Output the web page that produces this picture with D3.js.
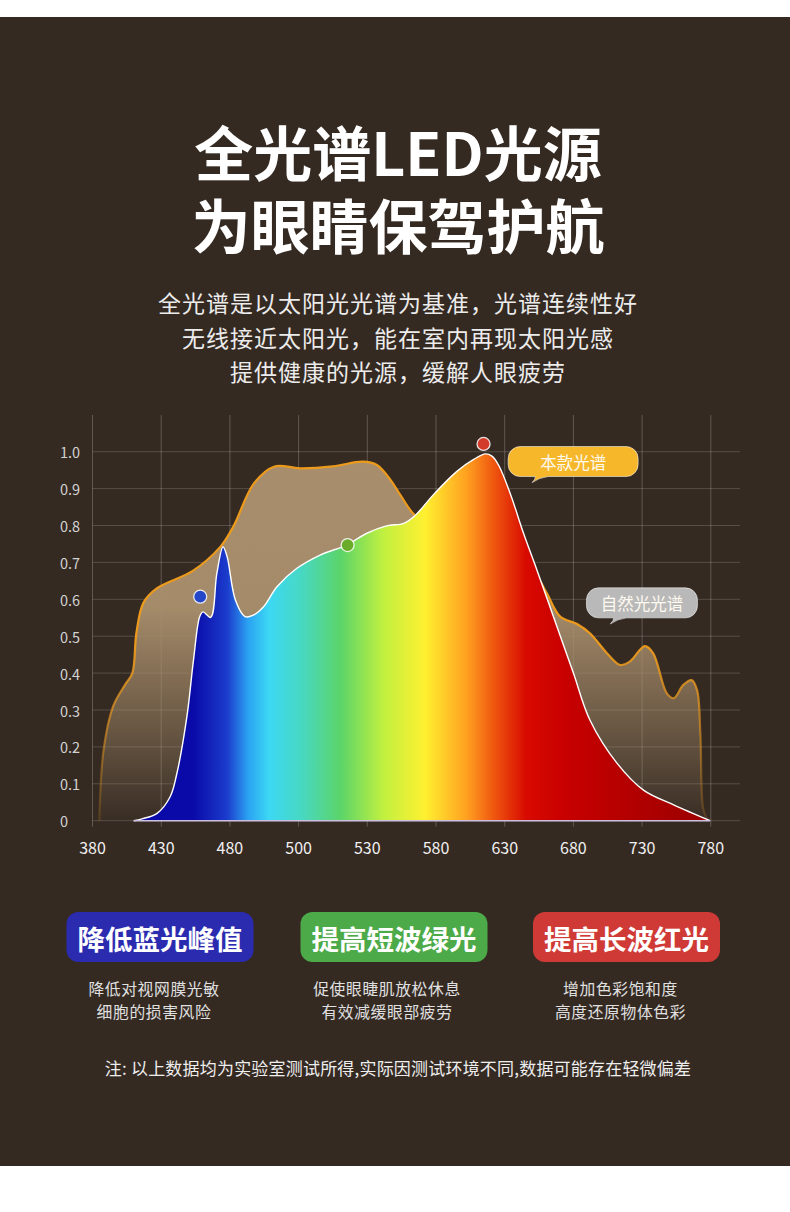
<!DOCTYPE html>
<html>
<head>
<meta charset="utf-8">
<script src="https://cdn.jsdelivr.net/npm/d3@7/dist/d3.min.js"></script>
<style>
  html, body { margin: 0; padding: 0; background: #ffffff; }
  svg { display: block; font-family: "Noto Sans CJK SC", "Noto Sans", sans-serif; }
</style>
</head>
<body>
<svg id="chart"></svg>
<script>
// tick labels (x is not evenly spaced in nm, every tick gets the same width)
var xTicks = [380, 430, 480, 500, 530, 580, 630, 680, 730, 780];
var yTicks = [0, 0.1, 0.2, 0.3, 0.4, 0.5, 0.6, 0.7, 0.8, 0.9, 1.0];
var yTickLabels = ['0', '0.1', '0.2', '0.3', '0.4', '0.5', '0.6', '0.7', '0.8', '0.9', '1.0'];

// natural light spectrum [nm, relative value]
var sunWave = [385, 388, 395, 404, 409, 412, 417, 427, 453, 473, 481, 487, 493, 500.5, 515, 528, 537, 547, 554, 564, 580, 610, 640, 653.5, 660.7, 670.4, 682.6, 692, 704.4, 714, 721, 732, 738, 748, 753, 760, 766, 770, 772.4, 774.6, 778];
var sunValue = [0, 0.19, 0.31, 0.37, 0.40, 0.51, 0.59, 0.63, 0.677, 0.742, 0.797, 0.914, 0.96, 0.955, 0.96, 0.973, 0.964, 0.923, 0.883, 0.83, 0.79, 0.74, 0.70, 0.661, 0.616, 0.553, 0.533, 0.508, 0.454, 0.422, 0.431, 0.473, 0.454, 0.345, 0.332, 0.368, 0.381, 0.354, 0.237, 0.03, 0];

// LED spectrum of this lamp
var ledWave = [410, 416, 427, 436.5, 441.4, 448.7, 453.5, 458, 460.4, 466, 470.5, 475, 478, 481.6, 484.4, 486.8, 489.8, 493.7, 499.5, 509.4, 521, 529.8, 544, 556.5, 565, 578, 595, 607.4, 616, 620.7, 625.5, 634, 643.7, 653.5, 668, 680, 692, 711.7, 731, 753, 779.5];
var ledValue = [0, 0.005, 0.02, 0.065, 0.128, 0.282, 0.435, 0.553, 0.566, 0.551, 0.67, 0.742, 0.715, 0.598, 0.553, 0.557, 0.58, 0.634, 0.684, 0.72, 0.747, 0.779, 0.799, 0.806, 0.828, 0.883, 0.946, 0.979, 0.994, 0.988, 0.964, 0.887, 0.779, 0.679, 0.526, 0.40, 0.273, 0.156, 0.083, 0.043, 0];

// rainbow stops for the LED fill
var rainbowWave = [453.6, 478, 485.3, 491.4, 501.8, 518.5, 541.5, 572, 602.5, 621, 645.6, 673, 765];
var rainbowColor = ['#0a0aa8', '#1b3ccc', '#2ba2f2', '#3cd8f4', '#48d8c0', '#5cd468', '#c0f040', '#fff030', '#ffa020', '#f05a10', '#d80a00', '#c80000', '#a00000'];

// marker dots
var dotWave = [458.4, 521.4, 614.6];
var dotValue = [0.607, 0.747, 1.021];
var dotColor = ['#2446c8', '#6aab2a', '#d23a2a'];

// speech bubbles (top-left anchored on the chart scales)
var bubbleText = ['本款光谱', '自然光光谱'];
var bubbleWave = [632.5, 689.5];
var bubbleValue = [1.014, 0.631];
var bubbleColor = ['#f6b82a', '#b9b9b9'];

var badgeText = ['降低蓝光峰值', '提高短波绿光', '提高长波红光'];
var badgeColor = ['#2b2bb0', '#4caa48', '#d03a36'];
var badgeLines = [['降低对视网膜光敏', '细胞的损害风险'], ['促使眼睫肌放松休息', '有效减缓眼部疲劳'], ['增加色彩饱和度', '高度还原物体色彩']];

var W = 790, H = 1212;
var svg = d3.select('#chart').attr('width', W).attr('height', H);

svg.append('rect').attr('x', 0).attr('y', 0).attr('width', W).attr('height', H).attr('fill', '#ffffff');
svg.append('rect').attr('x', 0).attr('y', 17).attr('width', W).attr('height', 1149).attr('fill', '#352a22');

// title, two lines in one text block
var title = svg.append('text').attr('text-anchor', 'middle')
  .style('font-size', '59px').style('font-weight', 700).attr('fill', '#ffffff');
title.append('tspan').attr('x', 398).attr('y', 150).attr('dominant-baseline', 'central').text('全光谱LED光源');
title.append('tspan').attr('x', 398).attr('y', 223).attr('dominant-baseline', 'central').text('为眼睛保驾护航');

var intro = ['全光谱是以太阳光光谱为基准，光谱连续性好', '无线接近太阳光，能在室内再现太阳光感', '提供健康的光源，缓解人眼疲劳'];
intro.forEach(function(s, i) {
  svg.append('text').attr('x', 398).attr('y', 302 + i * 34.5).attr('text-anchor', 'middle').attr('dominant-baseline', 'central')
    .style('font-size', '23px').style('letter-spacing', '1px').attr('fill', '#ececec').text(s);
});

// scales
var left = 92.5, step = 68.7;
var x = d3.scaleLinear().domain(xTicks).range(xTicks.map(function(d, i) { return left + i * step; }));
var y = d3.scaleLinear().domain([0, 1]).range([820.7, 451.7]);
var gridRight = 740, gridTop = 415;

var defs = svg.append('defs');

var sunFill = defs.append('linearGradient').attr('id', 'sunFill')
  .attr('gradientUnits', 'userSpaceOnUse').attr('x1', 0).attr('x2', 0).attr('y1', y(1)).attr('y2', y(0));
sunFill.append('stop').attr('offset', 0).attr('stop-color', '#a88e6c').attr('stop-opacity', 1);
sunFill.append('stop').attr('offset', 0.42).attr('stop-color', '#a88e6c').attr('stop-opacity', 0.97);
sunFill.append('stop').attr('offset', 0.75).attr('stop-color', '#a88e6c').attr('stop-opacity', 0.45);
sunFill.append('stop').attr('offset', 1).attr('stop-color', '#a88e6c').attr('stop-opacity', 0.03);

var sunStroke = defs.append('linearGradient').attr('id', 'sunStroke')
  .attr('gradientUnits', 'userSpaceOnUse').attr('x1', 0).attr('x2', 0).attr('y1', y(1)).attr('y2', y(0));
sunStroke.append('stop').attr('offset', 0).attr('stop-color', '#ec9a1c').attr('stop-opacity', 1);
sunStroke.append('stop').attr('offset', 0.5).attr('stop-color', '#ec9a1c').attr('stop-opacity', 1);
sunStroke.append('stop').attr('offset', 1).attr('stop-color', '#ec9a1c').attr('stop-opacity', 0.15);

var ledFill = defs.append('linearGradient').attr('id', 'ledFill')
  .attr('gradientUnits', 'userSpaceOnUse').attr('x1', x(380)).attr('x2', x(780)).attr('y1', 0).attr('y2', 0);
rainbowWave.forEach(function(w, i) {
  ledFill.append('stop').attr('offset', (x(w) - x(380)) / (x(780) - x(380))).attr('stop-color', rainbowColor[i]);
});

// grid
var grid = svg.append('g');
yTicks.forEach(function(v) {
  grid.append('line').attr('x1', left).attr('x2', gridRight).attr('y1', y(v)).attr('y2', y(v))
    .attr('stroke', 'rgba(255,255,255,0.17)').attr('stroke-width', 1);
});
xTicks.forEach(function(w) {
  grid.append('line').attr('x1', x(w)).attr('x2', x(w)).attr('y1', gridTop).attr('y2', y(0) + 6)
    .attr('stroke', 'rgba(255,255,255,0.22)').attr('stroke-width', 1);
});

// axis labels
yTicks.forEach(function(v, i) {
  svg.append('text').attr('x', 60).attr('y', y(v)).attr('dominant-baseline', 'central')
    .style('font-size', '14.5px').attr('fill', '#d2d2d2').text(yTickLabels[i]);
});
xTicks.forEach(function(w) {
  svg.append('text').attr('x', x(w)).attr('y', 847).attr('text-anchor', 'middle').attr('dominant-baseline', 'central')
    .style('font-size', '16px').attr('fill', '#f0f0f0').text(w);
});

// natural light area
var sunData = sunWave.map(function(w, i) { return [w, sunValue[i]]; });
var ledData = ledWave.map(function(w, i) { return [w, ledValue[i]]; });

var area = d3.area().x(function(d) { return x(d[0]); }).y0(y(0)).y1(function(d) { return y(d[1]); })
  .curve(d3.curveCatmullRom.alpha(0.5));
var line = d3.line().x(function(d) { return x(d[0]); }).y(function(d) { return y(d[1]); })
  .curve(d3.curveCatmullRom.alpha(0.5));

svg.append('path').datum(sunData).attr('d', area).attr('fill', 'url(#sunFill)');
svg.append('path').datum(sunData).attr('d', line).attr('fill', 'none')
  .attr('stroke', 'url(#sunStroke)').attr('stroke-width', 2.2);

// LED area
svg.append('path').datum(ledData).attr('d', area).attr('fill', 'url(#ledFill)');
svg.append('path').datum(ledData).attr('d', line).attr('fill', 'none')
  .attr('stroke', '#ffffff').attr('stroke-width', 1.4);
svg.append('line').attr('x1', x(ledWave[0])).attr('x2', x(ledWave[ledWave.length - 1]))
  .attr('y1', y(0)).attr('y2', y(0)).attr('stroke', '#cdbfe0').attr('stroke-width', 1.5);

// dots
dotWave.forEach(function(w, i) {
  svg.append('circle').attr('cx', x(w)).attr('cy', y(dotValue[i])).attr('r', 6.5)
    .attr('fill', dotColor[i]).attr('stroke', 'rgba(255,255,255,0.85)').attr('stroke-width', 1.3);
});

// bubbles
function bubblePath(x0, y0, w, h, r, t0, t1, tipX, tipY) {
  return 'M' + (x0 + r) + ',' + y0 + ' H' + (x0 + w - r) +
    ' A' + r + ',' + r + ' 0 0 1 ' + (x0 + w) + ',' + (y0 + r) +
    ' V' + (y0 + h - r) +
    ' A' + r + ',' + r + ' 0 0 1 ' + (x0 + w - r) + ',' + (y0 + h) +
    ' H' + t1 +
    ' Q' + (t0 + 4) + ',' + (y0 + h + 1) + ' ' + tipX + ',' + tipY +
    ' Q' + (t0 + 1) + ',' + (y0 + h + 2) + ' ' + t0 + ',' + (y0 + h) +
    ' H' + (x0 + r) +
    ' A' + r + ',' + r + ' 0 0 1 ' + x0 + ',' + (y0 + h - r) +
    ' V' + (y0 + r) +
    ' A' + r + ',' + r + ' 0 0 1 ' + (x0 + r) + ',' + y0 + ' Z';
}
var bubbleW = [130, 111];
bubbleText.forEach(function(s, i) {
  var bx = x(bubbleWave[i]), by = y(bubbleValue[i]), bw = bubbleW[i], bh = 30;
  svg.append('path').attr('d', bubblePath(bx, by, bw, bh, 12, bx + 27, bx + 40, bx + 24, by + bh + 6))
    .attr('fill', bubbleColor[i]).attr('stroke', 'rgba(255,255,255,0.55)').attr('stroke-width', 1);
  svg.append('text').attr('x', bx + bw / 2).attr('y', by + bh / 2).attr('text-anchor', 'middle').attr('dominant-baseline', 'central')
    .style('font-size', '16.5px').attr('fill', '#fffaf0').text(s);
});

// feature badges
var badgeCx = [160, 394, 626.5];
var subCx = [154, 387, 620.5];
badgeText.forEach(function(s, i) {
  svg.append('rect').attr('x', badgeCx[i] - 93.5).attr('y', 912).attr('width', 187).attr('height', 50).attr('rx', 12)
    .attr('fill', badgeColor[i]);
  svg.append('text').attr('x', badgeCx[i]).attr('y', 937.5).attr('text-anchor', 'middle').attr('dominant-baseline', 'central')
    .style('font-size', '27.5px').style('font-weight', 700).attr('fill', '#ffffff').text(s);
  badgeLines[i].forEach(function(t, j) {
    svg.append('text').attr('x', subCx[i]).attr('y', 988 + j * 23).attr('text-anchor', 'middle').attr('dominant-baseline', 'central')
      .style('font-size', '15.8px').style('letter-spacing', '0.6px').attr('fill', '#e0e0e0').text(t);
  });
});

svg.append('text').attr('x', 398).attr('y', 1067).attr('text-anchor', 'middle').attr('dominant-baseline', 'central')
  .style('font-size', '17px').style('letter-spacing', '0.2px').attr('fill', '#eeeeee').text('注: 以上数据均为实验室测试所得,实际因测试环境不同,数据可能存在轻微偏差');
</script>
</body>
</html>
